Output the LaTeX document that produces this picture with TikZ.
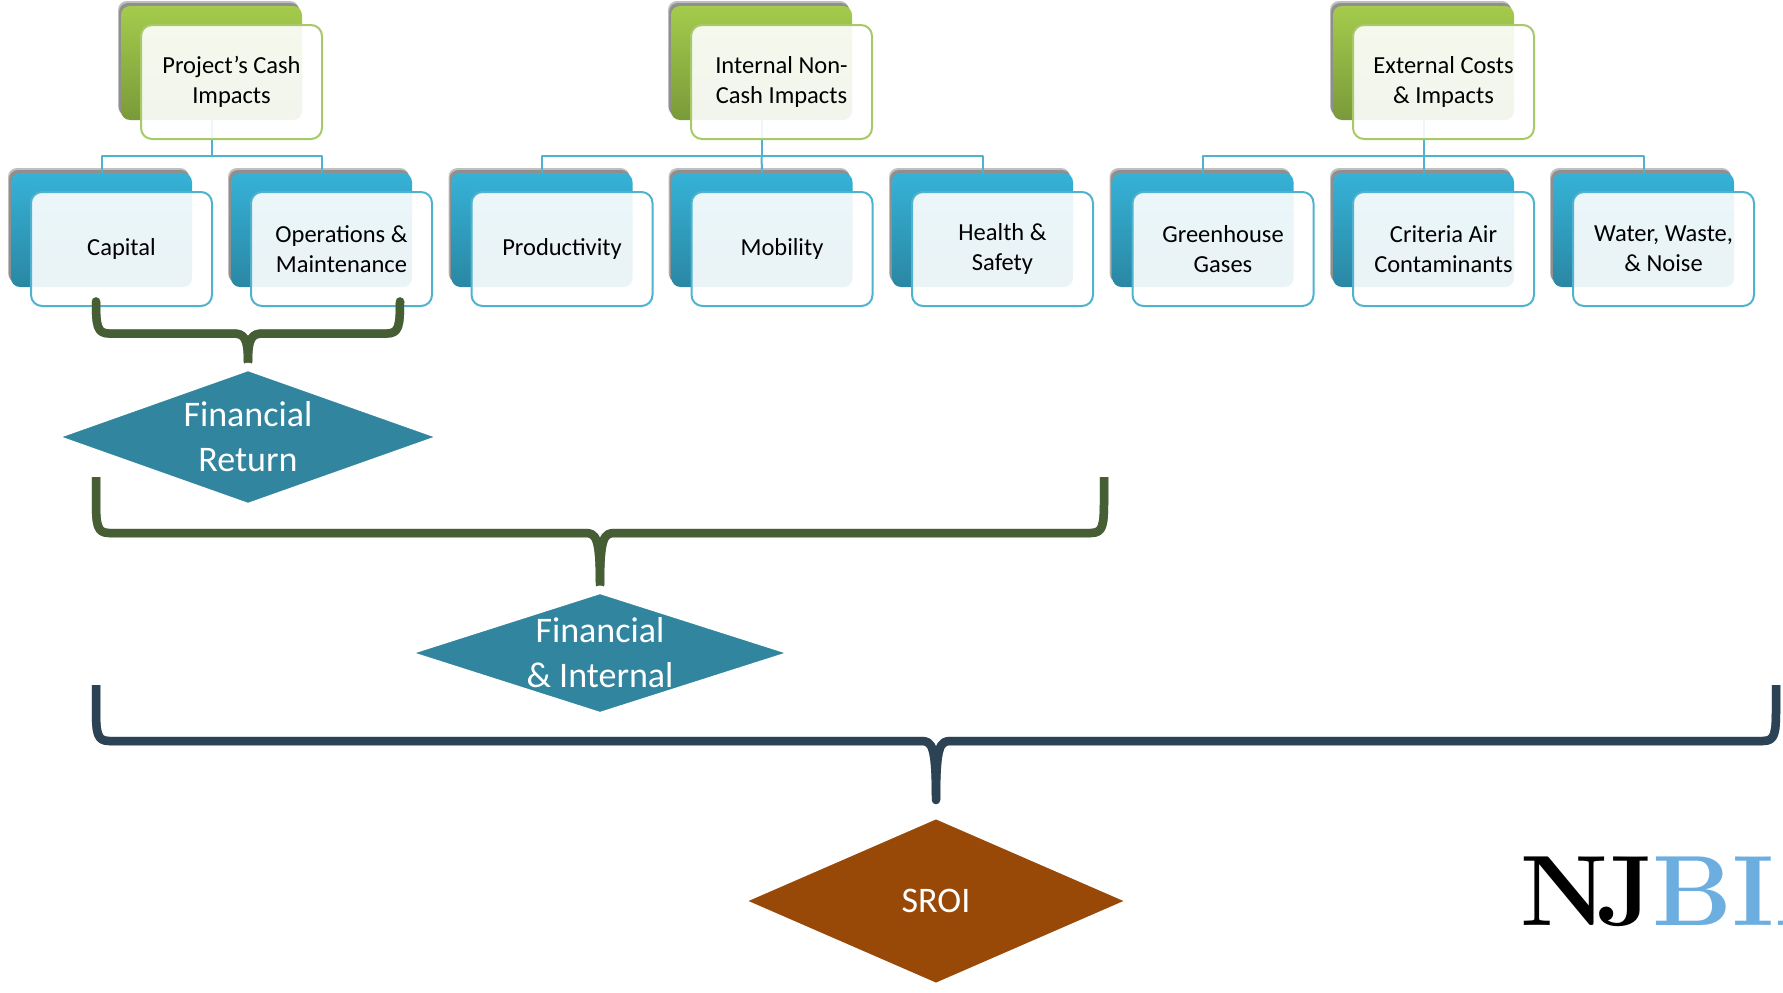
\documentclass[tikz,border=0pt]{standalone}
\usepackage{fontspec}
\setmainfont{Carlito}
\usetikzlibrary{calc,shapes.geometric,shadows}
\definecolor{leafgreen}{HTML}{A4CB4C}
\definecolor{leafdark}{HTML}{7A9A3A}
\definecolor{seablue}{HTML}{36B2D7}
\definecolor{seadark}{HTML}{2A87A3}
\definecolor{linkblue}{HTML}{4FB3CF}
\definecolor{edgegreen}{HTML}{A8C968}
\definecolor{bracegreen}{HTML}{455E33}
\definecolor{bracenavy}{HTML}{2C4356}
\definecolor{tealfill}{HTML}{31859F}
\definecolor{rustfill}{HTML}{984807}
\definecolor{logoblue}{HTML}{6CAEE0}
\tikzset{
	backbox/.style={minimum width=181,minimum height=114,inner sep=0,rounded corners=9,
		drop shadow={shadow xshift=-3,shadow yshift=-5,opacity=.25,fill=black},
		drop shadow={shadow xshift=-2,shadow yshift=-3,opacity=.25,fill=black}},
	greenback/.style={backbox,top color=leafgreen,bottom color=leafdark},
	blueback/.style={backbox,top color=seablue,bottom color=seadark},
	frontbox/.style={minimum width=181,minimum height=114,inner sep=0,rounded corners=11,
		line width=2,fill=white,fill opacity=.9,text opacity=1,align=center,
		font=\fontsize{24.5}{30}\selectfont,text=black},
	greenfront/.style={frontbox,draw=edgegreen},
	bluefront/.style={frontbox,draw=linkblue},
	link/.style={draw=linkblue,line width=2},
	decision/.style={shape=diamond,shape aspect=2.78,inner sep=0,draw=white,line width=8.4,
		text=white,align=center,font=\fontsize{36}{45}\selectfont,
		drop shadow={shadow xshift=0,shadow yshift=-3,opacity=.4,fill=black}},
}
% brace through the named ends (left, hub, stem tip, right)
\newcommand\bracepath[4]{
	(#1) -- ($(#1 |- #2)+(0,-32)$) .. controls ($(#1 |- #2)+(0,-8)$) and ($(#1 |- #2)+(1,0)$) .. ($(#1 |- #2)+(13,0)$)
	-- ($(#2)+(-15,0)$) .. controls ($(#2)+(-4,0)$) and ($(#2)+(0,4)$) .. (#3)
	.. controls ($(#2)+(0,4)$) and ($(#2)+(4,0)$) .. ($(#2)+(15,0)$)
	-- ($(#4 |- #2)+(-13,0)$) .. controls ($(#4 |- #2)+(-1,0)$) and ($(#4 |- #2)+(0,-8)$) .. ($(#4 |- #2)+(0,-32)$) -- (#4)
}
\newcommand\drawbrace[5]{
	\draw[#5,line width=8.5,line cap=butt,line join=round] \bracepath{#1}{#2}{#3}{#4};
}
\begin{document}
\begin{tikzpicture}[x=1pt,y=-1pt,line join=round]
	\useasboundingbox (0,0) rectangle (1783,993);
	% back plates
	\node[greenback] (cashback) at (211.5,63) {};
	\node[greenback] (internalback) at (761.5,63) {};
	\node[greenback] (externalback) at (1423.5,63) {};
	\node[blueback] (capitalback) at (101.5,230) {};
	\node[blueback] (operationsback) at (321.5,230) {};
	\node[blueback] (productivityback) at (542,230) {};
	\node[blueback] (mobilityback) at (762,230) {};
	\node[blueback] (healthback) at (982.5,230) {};
	\node[blueback] (greenhouseback) at (1203,230) {};
	\node[blueback] (criteriaback) at (1423.5,230) {};
	\node[blueback] (waterback) at (1643.5,230) {};
	% tree links
	\draw[link] (cashback.south) |- ++(0,36) coordinate (cashhub);
	\draw[link] (capitalback.north) |- (cashhub) -| (operationsback.north);
	\draw[link] (internalback.south) |- ++(0,36) coordinate (internalhub);
	\draw[link] (productivityback.north) |- (internalhub) -| (healthback.north);
	\draw[link] (internalhub) -- (mobilityback.north);
	\draw[link] (externalback.south) |- ++(0,36) coordinate (externalhub);
	\draw[link] (greenhouseback.north) |- (externalhub) -| (waterback.north);
	\draw[link] (externalhub) -- (criteriaback.north);
	% front plates
	\node[greenfront] (cash) at (231.5,82) {Project’s Cash\\Impacts};
	\node[greenfront] (internal) at (781.5,82) {Internal Non-\\Cash Impacts};
	\node[greenfront] (external) at (1443.5,82) {External Costs\\\& Impacts};
	\node[bluefront] (capital) at (121.5,249) {Capital};
	\node[bluefront] (operations) at (341.5,249) {Operations \&\\Maintenance};
	\node[bluefront] (productivity) at (562,249) {Productivity};
	\node[bluefront] (mobility) at (782,249) {Mobility};
	\node[bluefront] (health) at (1002.5,249) {Health \&\\Safety};
	\node[bluefront] (greenhouse) at (1223,249) {Greenhouse\\Gases};
	\node[bluefront] (criteria) at (1443.5,249) {Criteria Air\\Contaminants};
	\node[bluefront] (water) at (1663.5,249) {Water, Waste,\\\& Noise};
	% braces
	\path (96,302)coordinate (FL) (248,333.5)coordinate (FH) (248,362)coordinate (FT) (400,302)coordinate (FR)
		(96,477)coordinate (IL) (600,533)coordinate (IH) (600,585)coordinate (IT) (1104,477)coordinate (IR)
		(96,685)coordinate (SL) (936,741)coordinate (SH) (936,800)coordinate (ST) (1776,685)coordinate (SR);
	\begin{scope}[yshift=-4.5]
		\drawbrace{FL}{FH}{FT}{FR}{black!35}
		\drawbrace{IL}{IH}{IT}{IR}{black!35}
		\drawbrace{SL}{SH}{ST}{SR}{black!35}
	\end{scope}
	\drawbrace{FL}{FH}{FT}{FR}{bracegreen}
	\drawbrace{IL}{IH}{IT}{IR}{bracegreen}
	\drawbrace{SL}{SH}{ST}{SR}{bracenavy}
	% decisions
	\node[decision,fill=tealfill,minimum width=400,minimum height=144] (financial) at (248,437) {Financial\\Return};
	\node[decision,fill=tealfill,minimum width=400,minimum height=130] (combined) at (600,653) {Financial\\\& Internal};
	\node[decision,fill=rustfill,minimum width=400,minimum height=176,shape aspect=2.27] (sroi) at (936,901) {SROI};
	% logo
	\node[anchor=base west,inner sep=0,font=\rmfamily\fontsize{100}{100}\selectfont] (logo) at (1520,925)
		{\fontspec{Latin Modern Roman}\bfseries N\kern-12pt J\kern-2pt\textcolor{logoblue}{BIA}};
\end{tikzpicture}
\end{document}
